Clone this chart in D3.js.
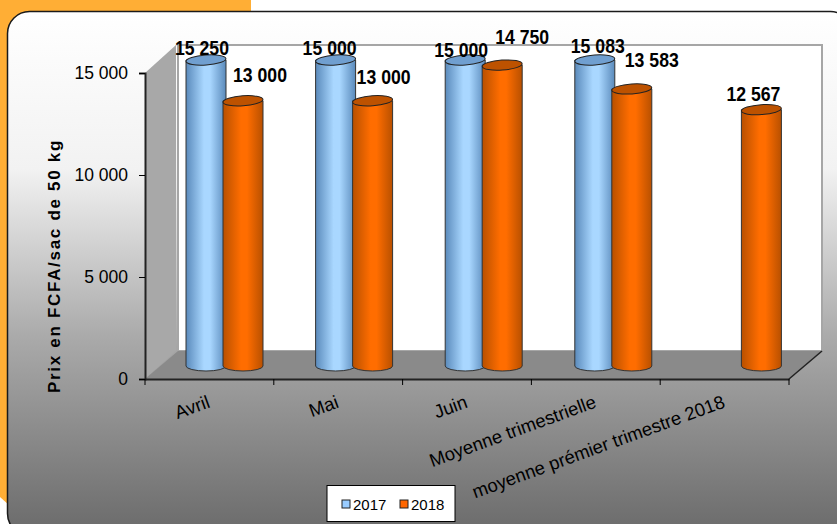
<!DOCTYPE html>
<html>
<head>
<meta charset="utf-8">
<script src="https://cdn.jsdelivr.net/npm/d3@7"></script>
<style>
  html, body { margin: 0; padding: 0; background: #fff; }
  svg { display: block; }
  text { font-family: "Liberation Sans", Arial, sans-serif; fill: #000; }
  .value { font-weight: bold; font-size: 21px; }
</style>
</head>
<body>
<svg id="chart" width="837" height="524"></svg>
<script>
const categories = ['Avril', 'Mai', 'Juin', 'Moyenne trimestrielle', 'moyenne prémier trimestre 2018'];
const seriesNames = ['2017', '2018'];
const values2017 = [15250, 15000, 15000, 15083, null];
const values2018 = [13000, 13000, 14750, 13583, 12567];
const yTicks = [0, 5000, 10000, 15000];

// labels were moved by hand in the original, so each one has its own nudge
const shift2017 = [[-4, -12], [-6, -12], [-4, -10], [3, -14]];
const shift2018 = [[17, -26], [11, -24], [20, -28], [20, -29], [-8, -16]];

const width = 837, height = 524;
const depthX = 33, depthY = 28;
const plot = { left: 145, right: 789, top: 73, bottom: 379 };
const barR = 20, barRy = 5;

const svg = d3.select('#chart');
const defs = svg.append('defs');

const panelGrad = defs.append('linearGradient').attr('id', 'panel')
    .attr('x1', 0).attr('x2', 0).attr('y1', 0).attr('y2', 1);
panelGrad.append('stop').attr('offset', '0%').attr('stop-color', '#ffffff');
panelGrad.append('stop').attr('offset', '30%').attr('stop-color', '#f2f2f2');
panelGrad.append('stop').attr('offset', '62%').attr('stop-color', '#aaaaaa');
panelGrad.append('stop').attr('offset', '100%').attr('stop-color', '#6a6a6a');

const cylGrad = (id, edge, mid) => {
    const g = defs.append('linearGradient').attr('id', id);
    g.append('stop').attr('offset', '0%').attr('stop-color', edge);
    g.append('stop').attr('offset', '45%').attr('stop-color', mid);
    g.append('stop').attr('offset', '60%').attr('stop-color', mid);
    g.append('stop').attr('offset', '100%').attr('stop-color', edge);
};
cylGrad('blue', '#5a8abb', '#a9d7ff');
cylGrad('orange', '#b85000', '#ff6d00');

// page background
svg.append('rect').attr('width', 251).attr('height', 497).attr('fill', '#ffae35');
svg.append('path').attr('d', 'M0,497L10,497L10,506L0,497').attr('fill', '#ffae35');
svg.append('rect').attr('x', 7.5).attr('y', 11.5).attr('width', 845).attr('height', 524)
    .attr('rx', 22).attr('fill', 'url(#panel)').attr('stroke', '#1a1a1a').attr('stroke-width', 1.5);

// scales
const x = d3.scaleBand().domain(categories).range([plot.left, plot.right]);
const xBars = d3.scaleBand().domain(categories).range([144, 792]);
const xSeries = d3.scalePoint().domain(seriesNames).range([62, 99]);
const y = d3.scaleLinear().domain([0, 15000]).range([plot.bottom, plot.top]).clamp(true);

// 3d box
const wallX0 = plot.left + depthX, wallX1 = plot.right + depthX;
const wallTop = plot.top - depthY, wallBottom = plot.bottom - depthY;
svg.append('rect').attr('x', wallX0).attr('y', wallTop)
    .attr('width', wallX1 - wallX0).attr('height', wallBottom - wallTop)
    .attr('fill', '#fff').attr('stroke', '#a6a6a6').attr('stroke-width', 2);
svg.append('path')
    .attr('d', `M${plot.left},${plot.top}L${wallX0 - 2},${wallTop}L${wallX0 - 2},${wallBottom}L${plot.left},${plot.bottom}Z`)
    .attr('fill', '#a8a8a8');
svg.append('path')
    .attr('d', `M${plot.left},${plot.bottom}L${wallX0},${wallBottom}L${wallX1},${wallBottom}L${plot.right},${plot.bottom}Z`)
    .attr('fill', '#8a8a8a');
svg.append('path')
    .attr('d', `M${plot.right},${plot.bottom}L${wallX1},${wallBottom}`)
    .attr('stroke', '#222').attr('stroke-width', 1.5);

// cylinders
const rows = [];
seriesNames.forEach((s, i) => {
    const vals = i === 0 ? values2017 : values2018;
    const shifts = i === 0 ? shift2017 : shift2018;
    vals.forEach((v, j) => {
        if (v !== null) rows.push({ series: s, cat: categories[j], value: v, shift: shifts[j], fill: i === 0 ? 'blue' : 'orange' });
    });
});
const base = y(0) - 13;
const cx = d => xBars(d.cat) + xSeries(d.series);
const topY = d => y(d.value) - 13;

const bars = svg.append('g').selectAll('g').data(rows).join('g');
bars.append('path')
    .attr('d', d => `M${cx(d) - barR},${topY(d)}L${cx(d) - barR},${base}A${barR},${barRy} 0 0 0 ${cx(d) + barR},${base}L${cx(d) + barR},${topY(d)}Z`)
    .attr('fill', d => `url(#${d.fill})`)
    .attr('stroke', '#333').attr('stroke-width', 1);
bars.append('ellipse')
    .attr('cx', cx).attr('cy', topY).attr('rx', barR).attr('ry', barRy)
    .attr('transform', d => `rotate(-4,${cx(d)},${topY(d)})`)
    .attr('fill', d => d.fill === 'blue' ? '#709fd0' : '#bd5200')
    .attr('stroke', '#222').attr('stroke-width', 1);

// axes
const fmt = d => d3.format(',')(d).replace(',', ' ');
const yAxis = d3.axisLeft(y).tickValues(yTicks).tickSizeOuter(0).tickSize(6).tickPadding(11).tickFormat(fmt);
const gy = svg.append('g').attr('transform', `translate(${plot.left},0)`).call(yAxis);
gy.selectAll('text').style('font-size', '17.5px').attr('dy', '0.3em');

const xAxis = d3.axisBottom(x).tickSize(6).tickSizeOuter(0).tickFormat('');
const gx = svg.append('g').attr('transform', `translate(0,${plot.bottom})`).call(xAxis);
gx.selectAll('.tick').remove();
gx.selectAll('.edge').data(d3.range(categories.length + 1)).join('line')
    .attr('x1', i => plot.left + i * x.step()).attr('x2', i => plot.left + i * x.step())
    .attr('y1', 0).attr('y2', 6).attr('stroke', '#000');

svg.selectAll('.domain').attr('stroke', '#222').attr('stroke-width', 2);

gx.selectAll('.catlabel').data(categories).join('text')
    .attr('class', 'catlabel')
    .attr('text-anchor', 'end')
    .attr('transform', d => `translate(${x(d) + 66},28) rotate(-20)`)
    .style('font-size', '18.5px')
    .text(d => d);

// value labels
svg.append('g').selectAll('text').data(rows).join('text')
    .attr('class', 'value')
    .attr('text-anchor', 'middle')
    .attr('dy', '0.35em')
    .attr('x', d => cx(d) + d.shift[0])
    .attr('y', d => topY(d) + d.shift[1])
    .attr('textLength', 54).attr('lengthAdjust', 'spacingAndGlyphs')
    .text(d => fmt(d.value));

// y title
svg.append('text')
    .attr('transform', 'translate(60,266) rotate(-90)')
    .attr('text-anchor', 'middle')
    .style('font-size', '17px').style('font-weight', 'bold').style('letter-spacing', '1.7px')
    .text('Prix en FCFA/sac de 50 kg');

// legend
const legend = svg.append('g');
legend.append('rect').attr('x', 327).attr('y', 485.5).attr('width', 128).attr('height', 36)
    .attr('fill', '#fff').attr('stroke', '#000').attr('stroke-width', 1);
const legX = d3.scalePoint().domain(seriesNames).range([342, 400]);
legend.selectAll('.sw').data(seriesNames).join('rect')
    .attr('class', 'sw').attr('x', d => legX(d)).attr('y', 500).attr('width', 8).attr('height', 8)
    .attr('fill', (d, i) => i === 0 ? '#99ccff' : '#ff6600').attr('stroke', '#222').attr('stroke-width', 1);
legend.selectAll('.lt').data(seriesNames).join('text')
    .attr('class', 'lt').attr('x', d => legX(d) + 11).attr('y', 510)
    .style('font-size', '15px')
    .text(d => d);
</script>
</body>
</html>
